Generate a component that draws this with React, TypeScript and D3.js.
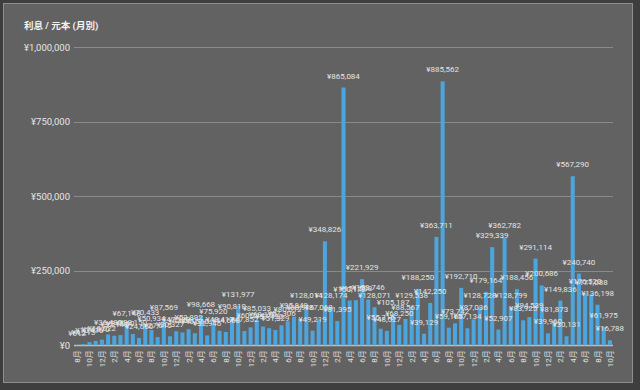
import { useEffect, useRef } from 'react';
import * as d3 from 'd3';

const TITLE = '利息 / 元本 (月別)';

// 8月 → 7年後の 10月 (87か月)
const MONTHS = [
  '8月', '9月', '10月', '11月', '12月',
  '1月', '2月', '3月', '4月', '5月', '6月', '7月', '8月', '9月', '10月', '11月', '12月',
  '1月', '2月', '3月', '4月', '5月', '6月', '7月', '8月', '9月', '10月', '11月', '12月',
  '1月', '2月', '3月', '4月', '5月', '6月', '7月', '8月', '9月', '10月', '11月', '12月',
  '1月', '2月', '3月', '4月', '5月', '6月', '7月', '8月', '9月', '10月', '11月', '12月',
  '1月', '2月', '3月', '4月', '5月', '6月', '7月', '8月', '9月', '10月', '11月', '12月',
  '1月', '2月', '3月', '4月', '5月', '6月', '7月', '8月', '9月', '10月', '11月', '12月',
  '1月', '2月', '3月', '4月', '5月', '6月', '7月', '8月', '9月', '10月',
];

const VALUES = [
  612, 4215, 10416, 14870, 19022, 36480, 32140, 34260, 67148, 38150,
  24650, 70433, 50934, 27615, 87569, 30327, 47380, 43060, 53892, 40560,
  98668, 32946, 75920, 48417, 44650, 90810, 131977, 47852, 60214, 85033,
  63170, 57430, 51329, 67306, 80612, 95849, 88916, 128014, 49219, 87068,
  348826, 128174, 81395, 865084, 150172, 151508, 221929, 153746, 128071, 55716,
  48527, 105187, 68250, 88567, 129538, 188250, 39129, 142250, 363711, 885562,
  59164, 73742, 192710, 57134, 87036, 128728, 179164, 329339, 52907, 362782,
  128799, 188456, 83925, 94539, 291114, 200686, 39960, 81873, 149836, 30131,
  567290, 240740, 176520, 171088, 136198, 61975, 16788,
];

const Y_TICKS = [0, 250000, 500000, 750000, 1000000];

const W = 640;
const H = 390;
const FONT = "Roboto, 'Noto Sans CJK JP', sans-serif";

export default function App() {
  const svgRef = useRef<SVGSVGElement>(null);

  useEffect(() => {
    const svg = d3.select(svgRef.current);
    svg.selectAll('*').remove();

    const plot = { left: 74, right: 613, top: 47.3, bottom: 345.3 };
    const yen = (v: number) => `¥${d3.format(',')(v)}`;

    const x = d3.scaleBand<number>()
      .domain(VALUES.map((_, i) => i))
      .range([plot.left, plot.right])
      .paddingInner(0.35).paddingOuter(0.175);
    const y = d3.scaleLinear().domain([0, 1000000]).range([plot.bottom, plot.top]);

    // background + panel
    svg.append('rect').attr('width', W).attr('height', H).attr('fill', '#3e3e3e');
    svg.append('rect').attr('x', 3.5).attr('y', 3.5).attr('width', 629).attr('height', 379)
      .attr('fill', '#626262').attr('stroke', '#8e8e8e');

    svg.append('text').attr('x', 24).attr('y', 29).attr('font-size', 9.5).attr('font-weight', 700)
      .attr('fill', '#f2f2f2').attr('font-family', FONT).text(TITLE);

    // grid
    svg.selectAll('.grid').data(Y_TICKS).join('line')
      .attr('x1', plot.left).attr('x2', plot.right)
      .attr('y1', (d) => Math.round(y(d)) + 0.5).attr('y2', (d) => Math.round(y(d)) + 0.5)
      .attr('stroke', (d) => (d === 0 ? '#c4c4c4' : '#8a8a8a'))
      .attr('stroke-width', (d) => (d === 0 ? 1.5 : 1));

    svg.selectAll('.ytick').data(Y_TICKS).join('text')
      .attr('x', 70).attr('y', (d) => y(d) + 3.5)
      .attr('text-anchor', 'end').attr('font-size', 9.5)
      .attr('fill', '#e6e6e6').attr('font-family', FONT)
      .text(yen);

    // bars
    svg.selectAll('.bar').data(VALUES).join('rect')
      .attr('x', (_, i) => x(i)!).attr('width', x.bandwidth())
      .attr('y', (d) => y(d)).attr('height', (d) => plot.bottom - y(d))
      .attr('fill', '#4da5dd');

    // month labels (every other month)
    svg.selectAll('.xtick').data(MONTHS.map((m, i) => ({ m, i })).filter((d) => d.i % 2 === 0)).join('text')
      .attr('transform', (d) => `translate(${x(d.i)! + x.bandwidth() / 2 + 3},${plot.bottom + 5}) rotate(-90)`)
      .attr('text-anchor', 'end').attr('font-size', 8).attr('fill', '#e0e0e0').attr('font-family', FONT)
      .text((d) => d.m);

    // value labels
    svg.selectAll('.vlabel').data(VALUES).join('text')
      .attr('x', (_, i) => x(i)! + x.bandwidth() / 2).attr('y', (d) => y(d) - 9)
      .attr('text-anchor', 'middle').attr('font-size', 8).attr('fill', '#e4e4e4').attr('font-family', FONT)
      .text(yen);
  }, []);

  return (
    <div style={{ width: W, height: H }}>
      <style>{'body{margin:0}'}</style>
      <svg ref={svgRef} width={W} height={H} style={{ display: 'block' }} />
    </div>
  );
}
